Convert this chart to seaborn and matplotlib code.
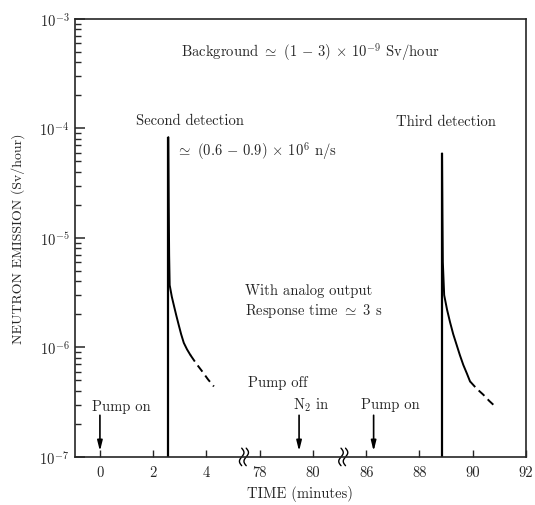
import numpy as np
import matplotlib
matplotlib.use("Agg")
import matplotlib.pyplot as plt
import matplotlib.ticker as mticker
import seaborn as sns

# ---------------------------------------------------------------- data
# second detection (minutes, Sv/hour)
spike2_t = 2.57
spike2_peak = 8.3e-5
decay2_t = [2.57, 2.585, 2.60, 2.62, 2.70, 2.78, 2.87, 2.96, 3.05, 3.15, 3.27, 3.40]
decay2_v = [8.3e-5, 2.0e-5, 7.0e-6, 3.7e-6, 2.9e-6, 2.4e-6, 1.95e-6, 1.6e-6,
            1.32e-6, 1.1e-6, 0.96e-6, 8.5e-7]
tail2_t = [3.40, 3.62, 3.85, 4.06, 4.28]
tail2_v = [8.5e-7, 7.1e-7, 6.0e-7, 5.1e-7, 4.4e-7]

# third detection
spike3_t = 88.85
spike3_peak = 5.9e-5
decay3_t = [88.85, 88.865, 88.88, 88.93, 89.04, 89.15, 89.27, 89.40, 89.52,
            89.65, 89.78, 89.90]
decay3_v = [5.9e-5, 1.6e-5, 6.0e-6, 3.0e-6, 2.2e-6, 1.7e-6, 1.32e-6, 1.05e-6,
            0.85e-6, 6.9e-7, 5.8e-7, 4.9e-7]
tail3_t = [89.90, 90.15, 90.40, 90.62, 90.84]
tail3_v = [4.9e-7, 4.2e-7, 3.7e-7, 3.25e-7, 2.9e-7]

# events marked with arrows
event_t = [0.0, 79.48, 86.28]

x_ticks = [0, 2, 4, 78, 80, 86, 88, 90, 92]
x_ticklabels = ["0", "2", "4", "78", "80", "86", "88", "90", "92"]

# broken time axis: three segments squeezed together
t_knots = [-100.0, 5.41, 77.41, 81.14, 85.14, 200.0]
u_knots = [-100.0, 5.41, 5.4101, 9.14, 9.1401, 124.0]


def fwd(t):
    return np.interp(t, t_knots, u_knots)


def inv(u):
    return np.interp(u, u_knots, t_knots)


# ---------------------------------------------------------------- style
sns.set_style("ticks")
plt.rcParams["font.family"] = "serif"
plt.rcParams["font.serif"] = ["cmr10", "DejaVu Serif"]
plt.rcParams["mathtext.fontset"] = "cm"
plt.rcParams["axes.formatter.use_mathtext"] = True
plt.rcParams["axes.unicode_minus"] = False

fig = plt.figure(figsize=(5.35, 5.06), dpi=100)
ax = fig.add_axes([0.140, 0.095, 0.843, 0.866])

# ---------------------------------------------------------------- curves
ax.vlines([spike2_t, spike3_t], 1e-7, [spike2_peak, spike3_peak],
          color="black", lw=1.6)
for tt, vv in [(decay2_t, decay2_v), (decay3_t, decay3_v)]:
    sns.lineplot(x=tt, y=vv, ax=ax, color="black", lw=1.4,
                 estimator=None, sort=False)
for tt, vv in [(tail2_t, tail2_v), (tail3_t, tail3_v)]:
    sns.lineplot(x=tt, y=vv, ax=ax, color="black", lw=1.4,
                 estimator=None, sort=False, linestyle=(0, (4, 2.5)))

for t in event_t:
    ax.annotate("", xy=(t, 1.13e-7), xytext=(t, 2.4e-7),
                arrowprops=dict(arrowstyle="-|>,head_length=0.6,head_width=0.15",
                                color="black", lw=1.2, shrinkA=0, shrinkB=0))

# ---------------------------------------------------------------- axes
ax.set_xscale("function", functions=(fwd, inv))
ax.set_yscale("log")
ax.set_xlim(-0.94, 92)
ax.set_ylim(1e-7, 1e-3)

ax.set_xticks(x_ticks)
ax.set_xticklabels(x_ticklabels)
ax.xaxis.set_minor_locator(mticker.NullLocator())
ax.yaxis.set_major_locator(mticker.LogLocator(base=10, numticks=10))
ax.yaxis.set_minor_locator(mticker.LogLocator(base=10, subs=np.arange(2, 10), numticks=10))
ax.yaxis.set_minor_formatter(mticker.NullFormatter())

ax.tick_params(axis="x", which="major", direction="in", length=5, width=1,
               labelsize=10.5, pad=6)
ax.tick_params(axis="y", which="major", direction="in", length=7, width=1.1,
               labelsize=10.5, pad=4)
ax.tick_params(axis="y", which="minor", direction="in", length=4, width=1)
for s in ax.spines.values():
    s.set_linewidth(1.2)

ax.set_xlabel("TIME (minutes)", fontsize=10.5, labelpad=4)
ax.set_ylabel("NEUTRON EMISSION (Sv/hour)", fontsize=10, labelpad=10)

# break marks on the time axis
u0, u1 = fwd(-0.94), fwd(92)
for tb in [5.41, 81.14]:
    xc = (fwd(tb) - u0) / (u1 - u0)
    s = np.linspace(-1, 1, 30)
    for dx in (-0.005, 0.005):
        ax.plot(xc + dx + 0.005 * np.sin(np.pi * s), 0.02 * s, color="black",
                lw=1.0, transform=ax.transAxes, clip_on=False)

# ---------------------------------------------------------------- labels
fs = 10.5
ax.text(0.521, 0.927, r"Background $\simeq$ (1 $-$ 3) $\times$ 10$^{-9}$ Sv/hour",
        transform=ax.transAxes, ha="center", va="center", fontsize=fs)
ax.text(0.255, 0.769, "Second detection", transform=ax.transAxes,
        ha="center", va="center", fontsize=fs)
ax.text(0.224, 0.701, r"$\simeq$ (0.6 $-$ 0.9) $\times$ 10$^{6}$ n/s",
        transform=ax.transAxes, ha="left", va="center", fontsize=fs)
ax.text(0.823, 0.767, "Third detection", transform=ax.transAxes,
        ha="center", va="center", fontsize=fs)
ax.text(0.377, 0.355, "With analog output\n" + r"Response time $\simeq$ 3 s",
        transform=ax.transAxes, ha="left", va="center", fontsize=fs,
        linespacing=1.3)
ax.text(0.104, 0.116, "Pump on", transform=ax.transAxes,
        ha="center", va="center", fontsize=fs)
ax.text(0.450, 0.171, "Pump off", transform=ax.transAxes,
        ha="center", va="center", fontsize=fs)
ax.text(0.523, 0.121, r"N$_2$ in", transform=ax.transAxes,
        ha="center", va="center", fontsize=fs)
ax.text(0.700, 0.121, "Pump on", transform=ax.transAxes,
        ha="center", va="center", fontsize=fs)

fig.savefig("out.png", dpi=100)
